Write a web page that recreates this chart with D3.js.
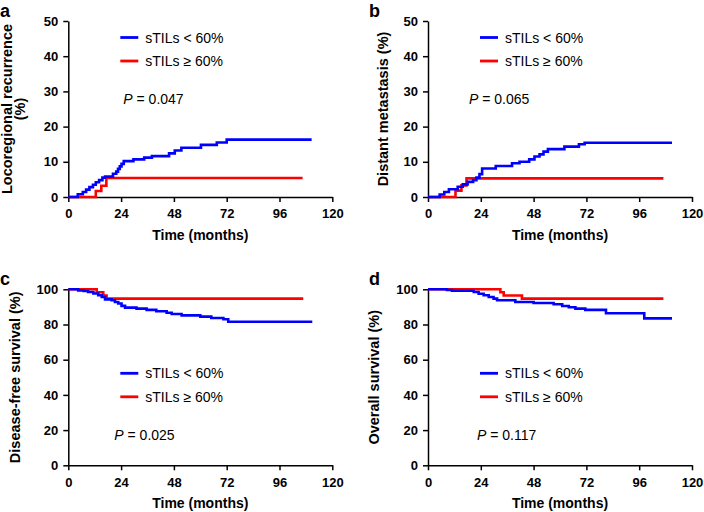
<!DOCTYPE html>
<html>
<head>
<meta charset="utf-8">
<script src="https://cdn.jsdelivr.net/npm/d3@7"></script>
<style>
  body { margin: 0; background: #fff; }
  svg { font-family: "Liberation Sans", Arial, Helvetica, sans-serif; }
  .axis path, .axis line { stroke: #000; stroke-width: 1.5px; }
  .axis text { font-size: 13px; font-weight: bold; fill: #000; }
</style>
</head>
<body>
<div id="chart"></div>
<script>
// Valores: [tempo (meses), %]
const xTicks = [0, 24, 48, 72, 96, 120];
const yTicksRecurrence = [0, 10, 20, 30, 40, 50];
const yTicksSurvival = [0, 20, 40, 60, 80, 100];
const groupLabels = ['sTILs < 60%', 'sTILs \u2265 60%'];
const groupColors = ['#0000ff', '#ff0000'];
const pValues = ['0.047', '0.065', '0.025', '0.117'];

// a - Locoregional recurrence
const lrBlue = [[0, 0], [4.3, 0.8], [6.6, 1.4], [8.1, 2.1], [9.6, 2.8], [11.2, 3.5], [12.5, 4.2], [14, 4.8], [15.5, 5.5], [16.7, 5.8],
  [20.3, 6.6], [21.8, 7.2], [22.6, 8.0], [23.4, 8.7], [24.2, 9.4], [25.2, 10.2], [29.6, 10.7], [34.5, 11.2], [38, 11.6],
  [45.8, 12.4], [48.4, 13.2], [51.4, 14.0], [60.3, 14.8], [67.5, 15.5], [72, 16.3], [110.6, 16.3]];
const lrRed = [[0, 0], [12.5, 1.7], [15, 3.2], [17.3, 5.4], [106.5, 5.4]];

// b - Distant metastasis
const dmBlue = [[0, 0], [5.3, 0.7], [7.4, 1.4], [9.5, 2.2], [13.5, 2.9], [15.8, 3.6], [18, 4.3], [20.5, 4.8], [22, 5.5],
  [23.4, 6.5], [24.6, 8.1], [30.8, 8.8], [38.2, 9.6], [41.6, 10.0], [46, 10.7], [48.4, 11.5], [50.7, 12.1], [52.5, 12.9],
  [54.5, 13.6], [62, 14.3], [68.6, 15.0], [71.2, 15.4], [110.9, 15.4]];
const dmRed = [[0, 0], [12.5, 1.8], [15.2, 3.3], [17.5, 5.3], [107, 5.3]];

// c - Disease-free survival
const dfsBlue = [[0, 100], [4.5, 99.4], [7, 99.0], [9, 98.5], [11.4, 97.6], [13.6, 96.6], [15.2, 95.6], [16.7, 94.3],
  [19.7, 93.8], [21.2, 92.8], [22.7, 91.9], [24.2, 90.6], [25.8, 89.6], [31, 89.0], [35.6, 88.3], [40, 87.5], [44.7, 86.7],
  [47, 86.0], [51.5, 85.2], [60, 84.5], [65, 83.7], [70.5, 83.0], [72.7, 81.6], [110.9, 81.6]];
const dfsRed = [[0, 100], [12.9, 98.3], [15.9, 96.5], [17.4, 94.7], [106.8, 94.7]];

// d - Overall survival
const osBlue = [[0, 100], [8.6, 99.6], [10.9, 99.2], [20.8, 98.5], [23, 97.5], [25.3, 96.6], [27.6, 95.6], [29.8, 94.7],
  [31.4, 93.8], [39.7, 92.8], [48, 92.2], [57.1, 91.5], [61, 90.5], [64, 89.8], [67, 89.0], [71.5, 88.3], [80.9, 86.4],
  [98.3, 83.5], [110.9, 83.5]];
const osRed = [[0, 100], [32.9, 98.3], [34.4, 96.5], [42.7, 94.7], [107, 94.7]];

const width = 704;
const height = 512;

const svg = d3.select('#chart')
  .append('svg')
  .attr('width', width)
  .attr('height', height);

// layout dos 4 paineis
const panels = [
  { letter: 'a', left: 68.3, top: 21, bottom: 197, yMax: 50, yTicks: yTicksRecurrence, series: [lrBlue, lrRed],
    title: ['Locoregional recurrence', '(%)'], titleX: [12, 24.5], legendY: 16.5, pX: 55, pY: 83, p: pValues[0] },
  { letter: 'b', left: 428, top: 21, bottom: 197, yMax: 50, yTicks: yTicksRecurrence, series: [dmBlue, dmRed],
    title: ['Distant metastasis (%)'], titleX: [388], legendY: 16.5, pX: 41, pY: 83, p: pValues[1] },
  { letter: 'c', left: 68.3, top: 289.3, bottom: 465.3, yMax: 100, yTicks: yTicksSurvival, series: [dfsBlue, dfsRed],
    title: ['Disease-free survival (%)'], titleX: [20], legendY: 84, pX: 46, pY: 151, p: pValues[2] },
  { letter: 'd', left: 428, top: 289.3, bottom: 465.3, yMax: 100, yTicks: yTicksSurvival, series: [osBlue, osRed],
    title: ['Overall survival (%)'], titleX: [379], legendY: 84, pX: 49, pY: 151, p: pValues[3] }
];

panels.forEach(panel => {
  const x = d3.scaleLinear().domain([0, 120]).range([panel.left, panel.left + 264]);
  const y = d3.scaleLinear().domain([0, panel.yMax]).range([panel.bottom, panel.top]);

  // eixos
  svg.append('g')
    .attr('class', 'axis')
    .attr('transform', `translate(0, ${panel.bottom})`)
    .call(d3.axisBottom(x).tickValues(xTicks).tickSize(5).tickPadding(7).tickSizeOuter(0));

  svg.append('g')
    .attr('class', 'axis')
    .attr('transform', `translate(${panel.left}, 0)`)
    .call(d3.axisLeft(y).tickValues(panel.yTicks).tickSize(5).tickPadding(5).tickSizeOuter(0));

  svg.append('text')
    .attr('x', panel.left + 132)
    .attr('y', panel.bottom + 42.5)
    .attr('text-anchor', 'middle')
    .style('font-size', '14px')
    .style('font-weight', 'bold')
    .text('Time (months)');

  const midY = (panel.top + panel.bottom) / 2;
  panel.title.forEach((t, i) => {
    svg.append('text')
      .attr('transform', `translate(${panel.titleX[i]}, ${midY}) rotate(-90)`)
      .attr('text-anchor', 'middle')
      .style('font-size', '14.5px')
      .style('font-weight', 'bold')
      .text(t);
  });

  svg.append('text')
    .attr('x', panel.left > 300 ? 369 : 0)
    .attr('y', panel.top - 4.5)
    .style('font-size', '18px')
    .style('font-weight', 'bold')
    .text(panel.letter);

  // curvas (vermelho primeiro, azul por cima)
  const line = d3.line()
    .x(d => x(d[0]))
    .y(d => y(d[1]))
    .curve(d3.curveStepAfter);

  [1, 0].forEach(i => {
    svg.append('path')
      .datum(panel.series[i])
      .attr('fill', 'none')
      .attr('stroke', groupColors[i])
      .attr('stroke-width', 2.6)
      .attr('d', line);
  });

  // legenda
  groupLabels.forEach((label, i) => {
    const ly = panel.top + panel.legendY + i * 23.5;
    svg.append('line')
      .attr('x1', panel.left + 52)
      .attr('x2', panel.left + 70)
      .attr('y1', ly)
      .attr('y2', ly)
      .attr('stroke', groupColors[i])
      .attr('stroke-width', 2.8);
    svg.append('text')
      .attr('x', panel.left + 77)
      .attr('y', ly + 5)
      .style('font-size', '14px')
      .text(label);
  });

  const pText = svg.append('text')
    .attr('x', panel.left + panel.pX)
    .attr('y', panel.top + panel.pY)
    .style('font-size', '14px');
  pText.append('tspan').style('font-style', 'italic').text('P');
  pText.append('tspan').text(' = ' + panel.p);
});
</script>
</body>
</html>
